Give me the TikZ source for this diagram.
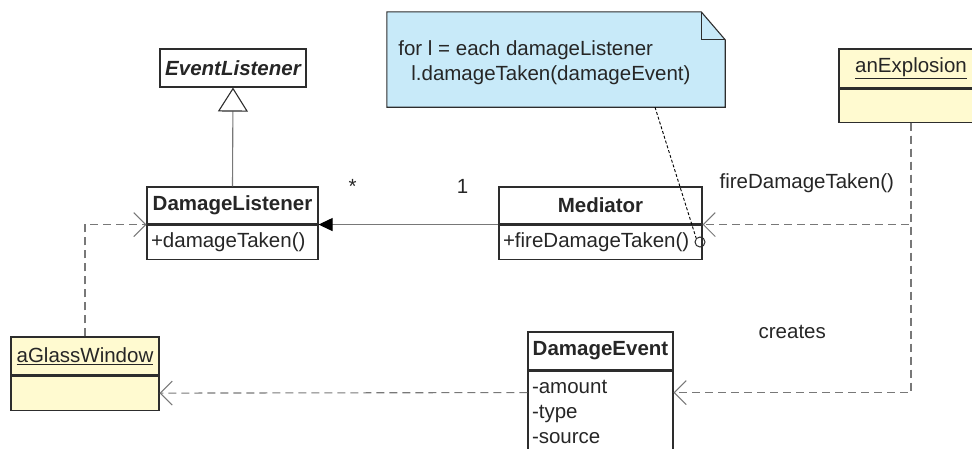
\documentclass[tikz,border=0pt]{standalone}
\usepackage{fontspec}
\setmainfont{Liberation Sans}
\usetikzlibrary{arrows.meta,positioning}
\definecolor{notefill}{RGB}{200,234,249}
\definecolor{objfill}{RGB}{255,250,208}
\definecolor{boxline}{RGB}{45,45,45}
\definecolor{linkgray}{RGB}{120,120,120}
\newcommand{\umlfont}{\fontsize{20.5}{25}\selectfont}

\begin{document}
\begin{tikzpicture}[x=1pt,y=-1pt,
  box/.style={draw=boxline, line width=1.1pt, inner sep=0pt, font=\umlfont, text=black!85},
  classhead/.style={box, font=\umlfont\bfseries},
  objhead/.style={box, fill=objfill},
  body/.style={box, align=left, inner xsep=4pt, anchor=north},
  link/.style={draw=linkgray, line width=1.1pt, dash pattern=on 8pt off 5pt},
  opentip/.style={-{Straight Barb[length=12pt,width=24pt,line width=1pt]}},
  mult/.style={inner sep=0pt, font=\umlfont, text=black!85}]
\useasboundingbox (0,0) rectangle (972,448);

% classes
\node[classhead, font=\umlfont\bfseries\itshape, minimum width=146, minimum height=38] (ev) at (233,68) {EventListener};
\node[classhead, minimum width=171, minimum height=37] (dl) at (232.5,205.5) {DamageListener};
\node[body, text width=163, minimum height=34, below=0pt of dl] (dlb) {+damageTaken()};
\node[classhead, minimum width=203, minimum height=37] (med) at (600.5,205.5) {Mediator};
\node[body, text width=195, minimum height=34, below=0pt of med] (medb) {+fireDamageTaken()};
\node[classhead, minimum width=145, minimum height=38] (de) at (600.5,351) {DamageEvent};
\node[body, text width=137, inner ysep=9pt, below=0pt of de] (deb) {-amount\\-type\\-source};

% objects
\node[objhead, minimum width=148, minimum height=38] (gw) at (85,356) {\underline{aGlassWindow}};
\node[box, fill=objfill, minimum width=148, minimum height=34, below=0pt of gw] (gwb) {};
\node[objhead, minimum width=144, minimum height=39] (exp) at (911,68.5) {\underline{anExplosion}};
\node[box, fill=objfill, minimum width=144, minimum height=33, below=0pt of exp] (expb) {};

% note with folded corner
\node[minimum width=338, minimum height=95, inner sep=0pt] (note) at (556,59.5) {};
\filldraw[fill=notefill, draw=boxline, line width=1.1pt] (note.north west) -- ([xshift=-24pt]note.north east)
  -- ([yshift=-28pt]note.north east) -- (note.south east) -- (note.south west) -- cycle;
\draw[boxline, line width=1.1pt] ([xshift=-24pt]note.north east) |- ([yshift=-28pt]note.north east);
\node[box, draw=none, align=left, anchor=north west] (notetext) at ([shift={(11,28)}]note.north west)
  {for l = each damageListener\\\hspace*{13pt}l.damageTaken(damageEvent)};

\node[circle, draw=boxline, line width=1pt, minimum size=10, inner sep=0pt] (ball) at (700,242) {};
\draw[black, line width=0.9pt, dash pattern=on 3pt off 2pt] ([xshift=99pt]note.south) -- (ball.north west);

% relations
\draw[draw=linkgray, line width=1.1pt, -{Triangle[open, length=24pt, width=30pt, fill=white, color=boxline]}] (dl.north) -- (ev.south);
\draw[draw=linkgray, line width=1.1pt, -{Triangle[length=14pt, width=13pt, black]}] (med.south west)
  -- node[mult, pos=0.2, above=31pt] (one) {1} node[mult, pos=0.81, above=31pt] (many) {*} (dl.south east);

\draw[link, opentip] (expb.south) |- (med.south east) node[mult, pos=0.75, above=31pt] (fire) {fireDamageTaken()};
\draw[link, opentip] (expb.south) |- ([yshift=-22pt]deb.north east) node[mult, pos=0.75, above=53pt] (creates) {creates};
\draw[link, opentip] ([yshift=-22pt]deb.north west) -- (gwb.east);
\draw[link, opentip] (gw.north) |- (dl.south west);
\end{tikzpicture}
\end{document}
